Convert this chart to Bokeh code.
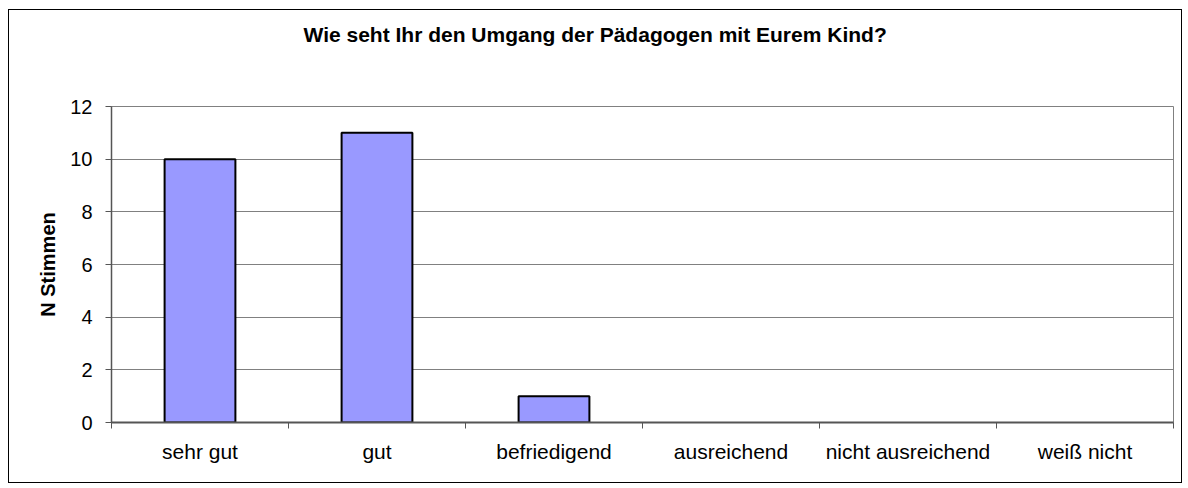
from bokeh.plotting import figure
from bokeh.models import ColumnDataSource, FixedTicker, Range1d, LinearAxis
from bokeh.embed import file_html
from bokeh.resources import INLINE

categories = ["sehr gut", "gut", "befriedigend", "ausreichend", "nicht ausreichend", "weiß nicht"]
votes = [10, 11, 1, 0, 0, 0]
y_ticks = [0, 2, 4, 6, 8, 10, 12]
title_text = "Wie seht Ihr den Umgang der Pädagogen mit Eurem Kind?"
y_label = "N Stimmen"

FONT = "Liberation Sans"

xs = [i + 0.5 for i, v in enumerate(votes) if v > 0]
tops = [v for v in votes if v > 0]
src = ColumnDataSource(dict(x=xs, top=tops))

p = figure(width=1174, height=474, output_backend="svg", toolbar_location=None,
           x_range=Range1d(0, len(categories)), y_range=Range1d(0, 12),
           title=title_text,
           min_border_left=102, min_border_right=10, min_border_top=96, min_border_bottom=62)
p.styles = {"border": "1px solid black", "box-sizing": "border-box", "margin": "9px 0px 0px 8px"}
p.background_fill_color = "white"
p.border_fill_color = "white"
p.outline_line_color = "#808080"
p.outline_line_width = 1

p.title.text_font = FONT
p.title.text_font_style = "bold"
p.title.text_font_size = "21px"
p.title.text_color = "black"
p.title.align = "left"
p.title.offset = 192
p.title.standoff = 10

p.vbar(x="x", top="top", bottom=0, width=0.4, source=src,
       fill_color="#9999FF", line_color="black", line_width=2)

# x axis (below)
xa = p.below[0]
xa.ticker = FixedTicker(ticks=[i + 0.5 for i in range(len(categories))],
                        minor_ticks=list(range(len(categories) + 1)))
xa.major_label_overrides = {i + 0.5: c for i, c in enumerate(categories)}
xa.major_tick_line_color = None
xa.minor_tick_line_color = "#555555"
xa.minor_tick_out = 6
xa.minor_tick_in = 0
xa.axis_line_color = "#555555"
xa.axis_line_width = 2
xa.major_label_text_font = FONT
xa.major_label_text_font_size = "21px"
xa.major_label_text_color = "black"
xa.major_label_standoff = 11
p.xgrid.visible = False

# invisible spacer (no drawn marks or text) between the frame and the title
spacer = LinearAxis(ticker=FixedTicker(ticks=[i + 0.5 for i in range(len(categories))], minor_ticks=[]),
                    axis_line_color=None, major_tick_line_color=None,
                    minor_tick_line_color=None, major_tick_out=56, major_tick_in=0,
                    minor_tick_out=0, minor_tick_in=0,
                    major_label_text_font_size="0px", major_label_text_color=None,
                    major_label_text_alpha=0)
p.add_layout(spacer, "above")

# y axis
ya = p.left[0]
ya.ticker = FixedTicker(ticks=y_ticks, minor_ticks=[])
ya.major_tick_out = 6
ya.major_tick_in = 0
ya.major_tick_line_color = "#555555"
ya.axis_line_color = "#555555"
ya.axis_line_width = 1.5
ya.major_label_text_font = FONT
ya.major_label_text_font_size = "20px"
ya.major_label_text_color = "black"
ya.major_label_standoff = 13
ya.axis_label = y_label
ya.axis_label_text_font = FONT
ya.axis_label_text_font_style = "bold"
ya.axis_label_text_font_size = "20px"
ya.axis_label_text_color = "black"
ya.axis_label_standoff = 8
p.ygrid.grid_line_color = "#808080"
p.ygrid.grid_line_width = 1

open("out.html", "w").write(file_html(p, INLINE))
